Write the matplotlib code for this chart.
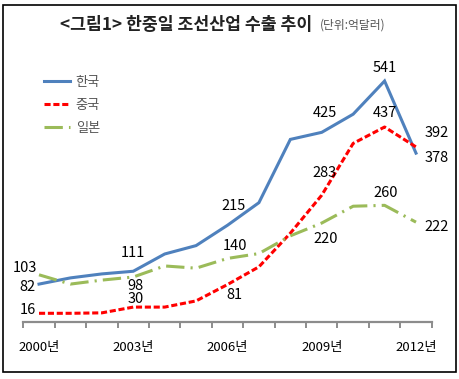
import matplotlib
matplotlib.use('Agg')
import matplotlib.pyplot as plt
from matplotlib.patches import Rectangle
import numpy as np

plt.rcParams['font.family'] = ['Noto Sans CJK KR', 'DejaVu Sans']

# data (unit: 100 million USD)
years = list(range(2000, 2013))
korea = [82, 96, 105, 111, 150, 169, 215, 266, 409, 425, 466, 541, 378]
china = [16, 16, 17, 30, 30, 44, 81, 121, 197, 283, 400, 437, 392]
japan = [103, 82, 91, 98, 123, 118, 140, 151, 191, 220, 258, 260, 222]
tick_years = [2000, 2003, 2006, 2009, 2012]
names = ['한국', '중국', '일본']

# which points get a value label, with offsets in pixels (dx, dy up)
korea_lbl = {0: (-12, -3), 3: (0, 18), 6: (6, 19), 9: (3, 19), 11: (0, 13), 12: (21, -5)}
china_lbl = {0: (-11, 3), 3: (2, 8), 6: (7, -10), 9: (3, 22), 11: (0, 14), 12: (21, 14)}
japan_lbl = {0: (-14, 7), 3: (2, -9), 6: (8, 12), 9: (4, -16), 11: (1, 12), 12: (21, -5)}

W, H = 460, 379
fig = plt.figure(figsize=(W / 100, H / 100), dpi=100)
fig.patch.set_facecolor('white')

# border of the figure box
fig.add_artist(Rectangle((3.5 / W, 1 - 372 / H), (456 - 3.5) / W, (372 - 5) / H,
                         transform=fig.transFigure, fill=False, ec='black', lw=1.2))

ax_l, ax_r = 23.3 / W, 431.7 / W
ax_b_px, ax_t_px = 321.7, 54.9
ax = fig.add_axes([ax_l, 1 - ax_b_px / H, ax_r - ax_l, (ax_b_px - ax_t_px) / H])

x = np.arange(len(years))
lw = 2.2
ax.plot(x, korea, color='#4F81BD', lw=lw, label=names[0], solid_joinstyle='miter')
ax.plot(x, china, color='#FF0000', lw=lw, dashes=(2, 0.9), label=names[1])
ax.plot(x, japan, color='#9BBB59', lw=lw, dashes=(6, 2, 0.7, 2), label=names[2])

ax.set_xlim(-0.5, len(years) - 0.5)
ax.set_ylim(-3, 600)

for s in ['top', 'right', 'left']:
    ax.spines[s].set_visible(False)
ax.spines['bottom'].set_color('#8c8c8c')
ax.spines['bottom'].set_linewidth(1.6)
ax.set_yticks([])

ax.set_xticks([years.index(y) for y in tick_years])
ax.set_xticklabels([f'{y}년' for y in tick_years], fontsize=9.5, color='black')
ax.set_xticks(np.arange(-0.5, len(years)), minor=True)
ax.tick_params(axis='x', which='major', length=0, pad=14)
ax.tick_params(axis='x', which='minor', length=4, width=1.4, color='#8c8c8c', direction='out')

px = 72 / 100
for vals, lbl in [(korea, korea_lbl), (china, china_lbl), (japan, japan_lbl)]:
    for i, (dx, dy) in lbl.items():
        ax.annotate(str(vals[i]), (x[i], vals[i]), xytext=(dx * px, dy * px),
                    textcoords='offset points', ha='center', va='center',
                    fontsize=10.5, color='black')

leg = ax.legend(loc='upper left', bbox_to_anchor=(44 / W, 1 - 76 / H),
                bbox_transform=fig.transFigure, frameon=False, fontsize=9.5,
                handlelength=2.0, handletextpad=0.4, labelspacing=0.75,
                borderpad=0, borderaxespad=0)
for t in leg.get_texts():
    t.set_color('#555555')

fig.text(312 / W, 1 - 25 / H, '<그림1> 한중일 조선산업 수출 추이', fontsize=12.4,
         fontweight='bold', ha='right', va='center', color='#222222')
fig.text(320 / W, 1 - 25 / H, '(단위:억달러)', fontsize=8.5, ha='left', va='center',
         color='#555555')

fig.savefig('out.png', dpi=100)
